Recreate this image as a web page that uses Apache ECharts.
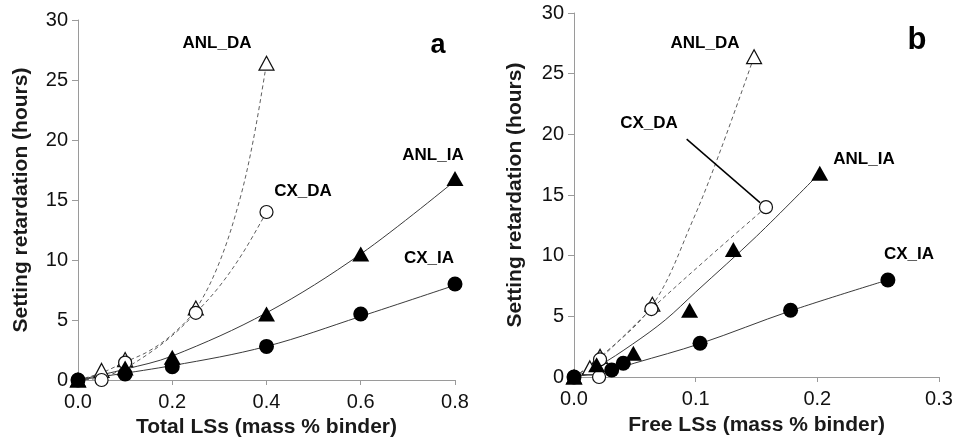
<!DOCTYPE html>
<html>
<head>
<meta charset="utf-8">
<script src="https://cdn.jsdelivr.net/npm/echarts@6/dist/echarts.min.js"></script>
<style>html,body{margin:0;padding:0;background:#fff}#c{width:960px;height:444px}</style>
</head>
<body>
<div id="c"></div>
<script>
// ---------- Panel a: Total LSs ----------
var a_ANL_DA = [[0,0],[0.05,0.8],[0.1,1.7],[0.25,6.0],[0.4,26.4]];
var a_CX_DA  = [[0,0],[0.05,0.0],[0.1,1.45],[0.25,5.6],[0.4,14.0]];
var a_ANL_IA = [[0,0],[0.1,1.0],[0.2,1.9],[0.4,5.5],[0.6,10.5],[0.8,16.8]];
var a_CX_IA  = [[0,0],[0.1,0.5],[0.2,1.1],[0.4,2.8],[0.6,5.5],[0.8,8.0]];
// trend curves
var a_ANL_DA_fit = [[0,0],[0.05,0.6],[0.1,1.5],[0.15,2.4],[0.2,3.8],[0.25,5.9],[0.3,9.8],[0.343,15],[0.372,20],[0.4,26.4]];
var a_CX_DA_fit  = [[0,0],[0.05,0.2],[0.1,1.0],[0.15,2.2],[0.2,3.7],[0.25,5.6],[0.3,7.8],[0.35,10.6],[0.4,14.0]];
var a_ANL_IA_fit = [[0,0],[0.1,0.9],[0.2,2.0],[0.4,5.6],[0.6,10.5],[0.8,16.6]];
var a_CX_IA_fit  = [[0,0],[0.2,1.2],[0.4,2.8],[0.6,5.3],[0.8,7.9]];

// ---------- Panel b: Free LSs ----------
var b_ANL_DA = [[0,0],[0.013,0.75],[0.0214,1.7],[0.0644,6.0],[0.148,26.4]];
var b_CX_DA  = [[0,0],[0.0206,0.0],[0.0214,1.45],[0.0636,5.6],[0.1578,14.0]];
var b_ANL_IA = [[0,0],[0.0186,1.0],[0.0488,1.95],[0.095,5.5],[0.131,10.5],[0.202,16.8]];
var b_CX_IA  = [[0,0],[0.031,0.58],[0.0405,1.13],[0.1036,2.78],[0.178,5.5],[0.258,8.0]];
var b_ANL_DA_fit = [[0,0],[0.02,1.5],[0.0644,5.9],[0.098,13.0],[0.1205,18.7],[0.148,26.4]];
var b_CX_DA_fit  = [[0,0],[0.02,1.4],[0.0636,5.6],[0.11,9.8],[0.158,14.0]];
var b_ANL_IA_fit = [[0,0],[0.02,0.9],[0.048,2.7],[0.075,4.7],[0.1,7.0],[0.15,11.6],[0.2,16.6]];
var b_CX_IA_fit  = [[0,0],[0.031,0.6],[0.05,1.15],[0.1036,2.75],[0.178,5.45],[0.258,8.0]];
var b_CX_DA_pointer = [[0.0926,19.6],[0.1529,14.37]];

var xTicksA = {min:0, max:0.8, interval:0.2};
var xTicksB = {min:0, max:0.3, interval:0.1};
var yTicks  = {min:0, max:30, interval:5};

var FONT = "'Liberation Sans', Arial, sans-serif";
var AXC = '#9a9a9a';

function xAxis(idx, t, name, gap){
  return {type:'value', gridIndex:idx, min:t.min, max:t.max, interval:t.interval,
    name:name, nameLocation:'middle', nameGap:gap,
    nameTextStyle:{fontFamily:FONT, fontSize:21, fontWeight:'bold', color:'#1a1a1a'},
    axisLine:{show:true, lineStyle:{color:AXC, width:1}},
    axisTick:{show:true, inside:false, length:5, lineStyle:{color:AXC}},
    axisLabel:{fontFamily:FONT, fontSize:20, color:'#111', margin:12, formatter:function(v){return v.toFixed(1);}},
    splitLine:{show:false}};
}
function yAxis(idx, gap){
  return {type:'value', gridIndex:idx, min:yTicks.min, max:yTicks.max, interval:yTicks.interval,
    name:'Setting retardation (hours)', nameLocation:'middle', nameGap:gap, nameRotate:90,
    nameTextStyle:{fontFamily:FONT, fontSize:21, fontWeight:'bold', color:'#1a1a1a'},
    axisLine:{show:true, lineStyle:{color:AXC, width:1}},
    axisTick:{show:true, inside:false, length:6, lineStyle:{color:AXC}},
    axisLabel:{fontFamily:FONT, fontSize:20, color:'#111', margin:10},
    splitLine:{show:false}};
}
function fit(idx, data, dashed){
  return {type:'line', xAxisIndex:idx, yAxisIndex:idx, data:data, smooth:0.35, showSymbol:false, symbol:'none',
    lineStyle:{color: dashed ? '#5e5e5e' : '#3a3a3a', width:1, type: dashed ? [4,3] : 'solid'},
    silent:true, z:2};
}
function pts(idx, data, symbol, filled, size){
  return {type:'scatter', xAxisIndex:idx, yAxisIndex:idx, data:data, symbol:symbol, symbolSize:size,
    itemStyle:{opacity:1, color: filled ? '#000' : '#fff', borderColor: filled ? '#000' : '#111', borderWidth: filled ? 0 : 1.2},
    z:5};
}
function lbl(x, y, text, size){
  return {type:'text', x:x, y:y, style:{text:text, fontFamily:FONT, fontSize:size||17, fontWeight:'bold', fill:'#000', align:'center', verticalAlign:'middle'}};
}

var chart = echarts.init(document.getElementById('c'), null, {renderer:'canvas'});
chart.setOption({
  animation:false,
  backgroundColor:'#fff',
  grid:[
    {left:78, top:20, width:377, height:360},
    {left:574, top:13, width:365, height:364}
  ],
  xAxis:[xAxis(0, xTicksA, 'Total LSs (mass % binder)', 36), xAxis(1, xTicksB, 'Free LSs (mass % binder)', 38)],
  yAxis:[yAxis(0, 46), yAxis(1, 48)],
  series:[
    fit(0, a_ANL_DA_fit, true), fit(0, a_CX_DA_fit, true), fit(0, a_ANL_IA_fit, false), fit(0, a_CX_IA_fit, false),
    fit(1, b_ANL_DA_fit, true), fit(1, b_CX_DA_fit, true), fit(1, b_ANL_IA_fit, false), fit(1, b_CX_IA_fit, false),
    {type:'line', xAxisIndex:1, yAxisIndex:1, data:b_CX_DA_pointer, symbol:'none', showSymbol:false,
      lineStyle:{color:'#000', width:1.5}, silent:true, z:3},
    pts(0, a_ANL_DA, 'triangle', false, [15,14]), pts(0, a_CX_DA, 'circle', false, 13),
    pts(0, a_ANL_IA, 'triangle', true, [17,15]), pts(0, a_CX_IA, 'circle', true, 15),
    pts(1, b_ANL_DA, 'triangle', false, [15,14]), pts(1, b_CX_DA, 'circle', false, 13),
    pts(1, b_ANL_IA, 'triangle', true, [17,15]), pts(1, b_CX_IA, 'circle', true, 15)
  ],
  graphic:[
    lbl(217, 43, 'ANL_DA'), lbl(303, 191, 'CX_DA'), lbl(433, 155, 'ANL_IA'), lbl(429, 258, 'CX_IA'),
    lbl(438, 46, 'a', 27),
    lbl(705, 43, 'ANL_DA'), lbl(649, 123, 'CX_DA'), lbl(864, 159, 'ANL_IA'), lbl(909, 254, 'CX_IA'),
    lbl(917, 40, 'b', 31)
  ]
});
</script>
</body>
</html>
